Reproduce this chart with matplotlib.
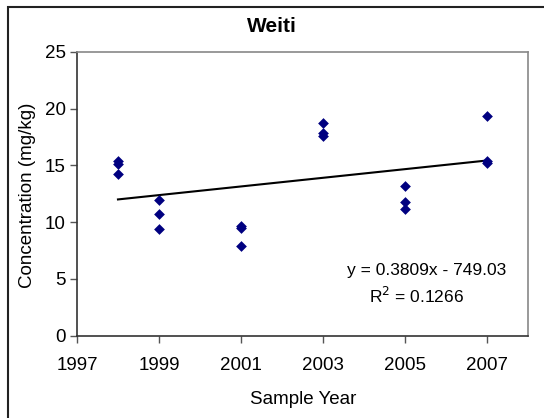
import matplotlib
matplotlib.use("Agg")
import matplotlib.pyplot as plt
from matplotlib.patches import Rectangle
import numpy as np

plt.rcParams['font.family'] = ['Liberation Sans', 'DejaVu Sans']

years = [1998, 1998, 1998, 1999, 1999, 1999, 2001, 2001, 2001,
         2003, 2003, 2003, 2005, 2005, 2005, 2007, 2007, 2007]
conc = [15.39, 15.13, 14.25, 11.93, 10.75, 9.43, 9.65, 9.45, 7.93,
        18.71, 17.89, 17.59, 13.22, 11.78, 11.14, 19.36, 15.40, 15.24]
slope = 0.3809
intercept = -749.03
r2_text = "0.1266"
xticks = [1997, 1999, 2001, 2003, 2005, 2007]
yticks = [0, 5, 10, 15, 20, 25]

fig = plt.figure(figsize=(5.44, 4.18), dpi=100)
ax = fig.add_axes([77/544, 1-335.7/418, (527.7-77)/544, (335.7-52)/418])

ax.scatter(years, conc, marker='D', s=30, color='#000080', zorder=3, linewidths=0)
fx = np.array([min(years), max(years)])
ax.plot(fx, slope*fx + intercept, color='black', linewidth=1.5, zorder=2)

ax.set_xlim(1997, 2008)
ax.set_ylim(0, 25)
ax.set_xticks(xticks)
ax.set_yticks(yticks)
ax.tick_params(axis='both', direction='out', length=5, width=1, labelsize=13.5,
               color='#555555', pad=3)
ax.tick_params(axis='x', pad=10)
for s in ['top', 'right']:
    ax.spines[s].set_color('#888888')
    ax.spines[s].set_linewidth(1.2)
for s in ['left', 'bottom']:
    ax.spines[s].set_color('#333333')
    ax.spines[s].set_linewidth(1.2)

ax.text(427, 418-271, f"y = {slope}x - {abs(intercept):.2f}", transform=None,
        fontsize=12.5, ha='center', va='center')
ax.text(417, 418-296, "R$^2$ = " + r2_text, transform=None,
        fontsize=12.5, ha='center', va='center')

fig.text(272/544, 1-27/418, "Weiti", fontsize=15, fontweight='bold',
         ha='center', va='center')
fig.text(28/544, 1-195/418, "Concentration (mg/kg)", fontsize=13.5,
         rotation=90, ha='center', va='center')
fig.text(303/544, 1-400/418, "Sample Year", fontsize=13.5,
         ha='center', va='center')

fig.patches.append(Rectangle((8/544, -0.1), 1.2, 1.1 - 7/418,
                             transform=fig.transFigure, fill=False,
                             edgecolor='#222222', linewidth=1.5))

fig.savefig("out.png", dpi=100)
